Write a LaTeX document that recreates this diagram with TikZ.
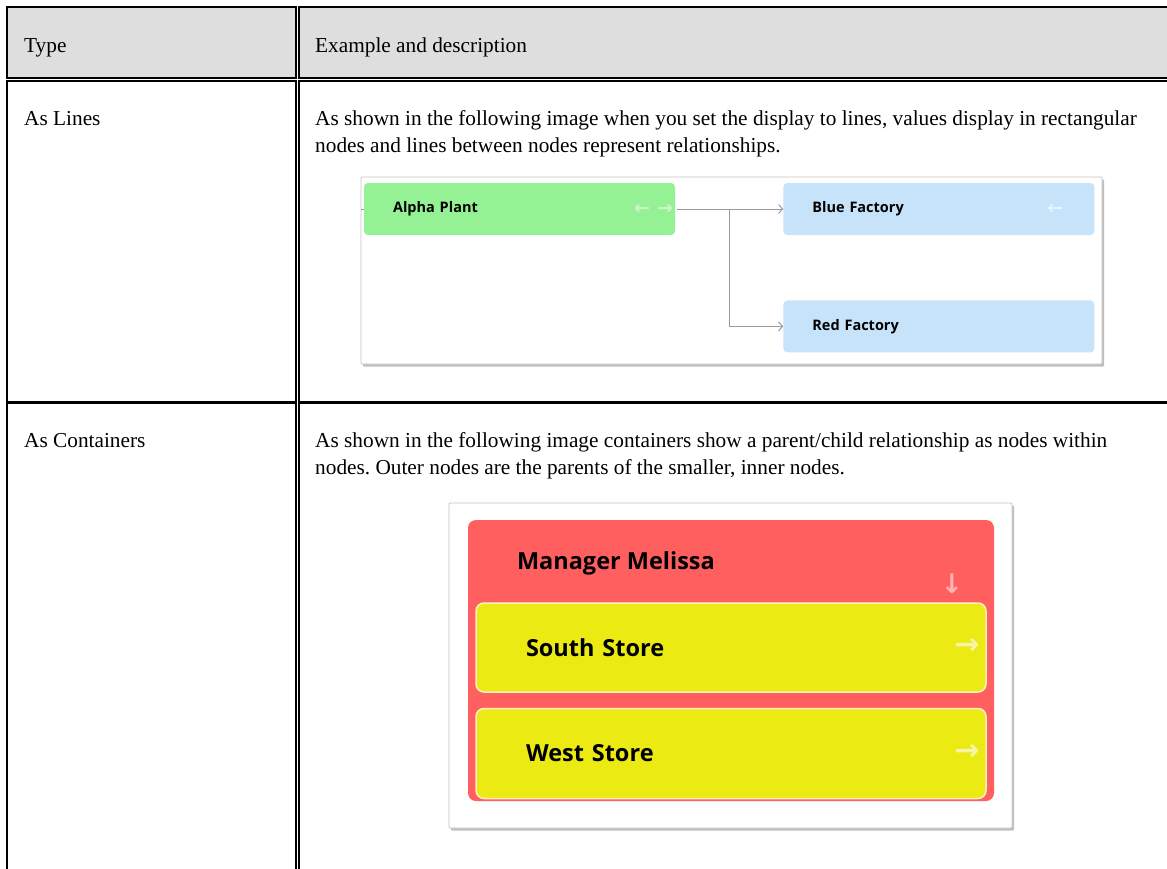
\documentclass[tikz,border=0pt]{standalone}
\usepackage{fontspec}
\setmainfont{Liberation Serif}
\newfontfamily\appfont{Open Sans}
\newfontfamily\symfont{DejaVu Sans}
\usetikzlibrary{positioning,shadows,arrows.meta,calc}
\definecolor{headgray}{HTML}{DEDEDE}
\definecolor{framegray}{HTML}{C4C4C4}
\definecolor{conngray}{HTML}{9A9A9A}
\definecolor{plantgreen}{HTML}{94F194}
\definecolor{factoryblue}{HTML}{C6E3FA}
\definecolor{managerred}{HTML}{FF5F5F}
\definecolor{storeyellow}{HTML}{EBEA12}
\definecolor{greenhint}{HTML}{CBF6CB}
\definecolor{bluehint}{HTML}{E8F4FD}
\definecolor{redhint}{HTML}{FFB2B2}
\definecolor{yellowhint}{HTML}{F6F4A6}
\definecolor{storeedge}{HTML}{FFF0C4}
\frenchspacing

\begin{document}
\begin{tikzpicture}[x=1bp,y=-1bp,
    every node/.style={inner sep=0pt},
    cell/.style={draw=black,line width=1.4bp},
    txt/.style={anchor=base west,font=\fontsize{21.3bp}{27bp}\selectfont},
    frame/.style={draw=framegray,fill=white,line width=0.8bp,rounded corners=1bp,
      drop shadow={shadow xshift=2bp,shadow yshift=-2.5bp,opacity=0.5,fill=gray}},
    box/.style={rounded corners=4bp,minimum height=52bp,text width=253bp,
      inner xsep=29bp,align=left,font=\appfont\bfseries\fontsize{14.5bp}{16bp}\selectfont},
    store/.style={draw=storeedge,line width=1.5bp,fill=storeyellow,rounded corners=8bp,
      text width=410bp,inner xsep=50bp,align=left,
      font=\appfont\bfseries\fontsize{23.5bp}{26bp}\selectfont},
    hint/.style={font=\symfont\bfseries\fontsize{19bp}{20bp}\selectfont},
    bighint/.style={font=\symfont\bfseries\fontsize{30bp}{32bp}\selectfont},
    conn/.style={draw=conngray,line width=1bp}]
  \useasboundingbox (0,0) rectangle (1167,869);
  \clip (0,0) rectangle (1167,869);
  % table
  \draw[cell,fill=headgray] (7,7) rectangle (296,78);
  \draw[cell,fill=headgray] (299,7) rectangle (1190,78);
  \draw[cell] (7,81) rectangle (296,401.5);
  \draw[cell] (299,81) rectangle (1190,401.5);
  \draw[cell] (7,403) rectangle (296,900);
  \draw[cell] (299,403) rectangle (1190,900);
  \node[txt] (typehead) at (24,52) {Type};
  \node[txt] (deschead) at (315,52) {Example and description};
  \node[txt] (lineshead) at (24,125) {As Lines};
  \node[txt] (linesdesc) at (315,125) {As shown in the following image when you set the display to lines, values display in rectangular};
  \node[txt] (linesdesc2) at ([yshift=-27bp]linesdesc.base west) {nodes and lines between nodes represent relationships.};
  \node[txt] (conthead) at (24,447) {As Containers};
  \node[txt] (contdesc) at (315,447) {As shown in the following image containers show a parent/child relationship as nodes within};
  \node[txt] (contdesc2) at ([yshift=-27bp]contdesc.base west) {nodes. Outer nodes are the parents of the smaller, inner nodes.};
  % lines image
  \node[frame,minimum width=741bp,minimum height=187bp] (frame1) at (731.5,270.5) {};
  \node[box,fill=plantgreen] (alpha) at (519.5,209) {Alpha Plant};
  \node[box,fill=factoryblue,right=108bp of alpha] (blue) {Blue Factory};
  \node[box,fill=factoryblue,below=65bp of blue] (red) {Red Factory};
  \node[hint,text=greenhint,anchor=east] (alphahint) at ([xshift=-2bp]alpha.east) {←\hspace{7bp}→};
  \node[hint,text=bluehint,anchor=east] (bluehint) at ([xshift=-31bp]blue.east) {←};
  \coordinate (split) at ($(alpha.east)!0.5!(blue.west)$);
  \draw[conn,-{Straight Barb[length=4bp,width=9bp]},shorten <=2bp] (alpha.east) -- (blue.west);
  \draw[conn,-{Straight Barb[length=4bp,width=9bp]}] (split) |- (red.west);
  \draw[conn] (frame1.west |- alpha.west) -- (alpha.west);
  % containers image
  \node[frame,minimum width=563bp,minimum height=325bp] (frame2) at (730.5,665.5) {};
  \node[fill=managerred,rounded corners=8bp,minimum width=526bp,minimum height=281bp] (manager) at (731,660.5) {};
  \node[anchor=base west,font=\appfont\bfseries\fontsize{23.5bp}{26bp}\selectfont] (mgrname)
    at ([xshift=49bp,yshift=-50bp]manager.north west) {Manager Melissa};
  \node[bighint,text=redhint,font=\symfont\bfseries\fontsize{27bp}{28bp}\selectfont] (mgrhint) at (952,584) {↓};
  \node[store,minimum height=89bp] (south) at (731,647.5) {South Store};
  \node[store,minimum height=90bp,below=15bp of south] (west) {West Store};
  \node[bighint,text=yellowhint,anchor=east] (southhint) at ([xshift=-7bp,yshift=1bp]south.east) {→};
  \node[bighint,text=yellowhint,anchor=east] (westhint) at ([xshift=-7bp,yshift=1bp]west.east) {→};
\end{tikzpicture}
\end{document}
